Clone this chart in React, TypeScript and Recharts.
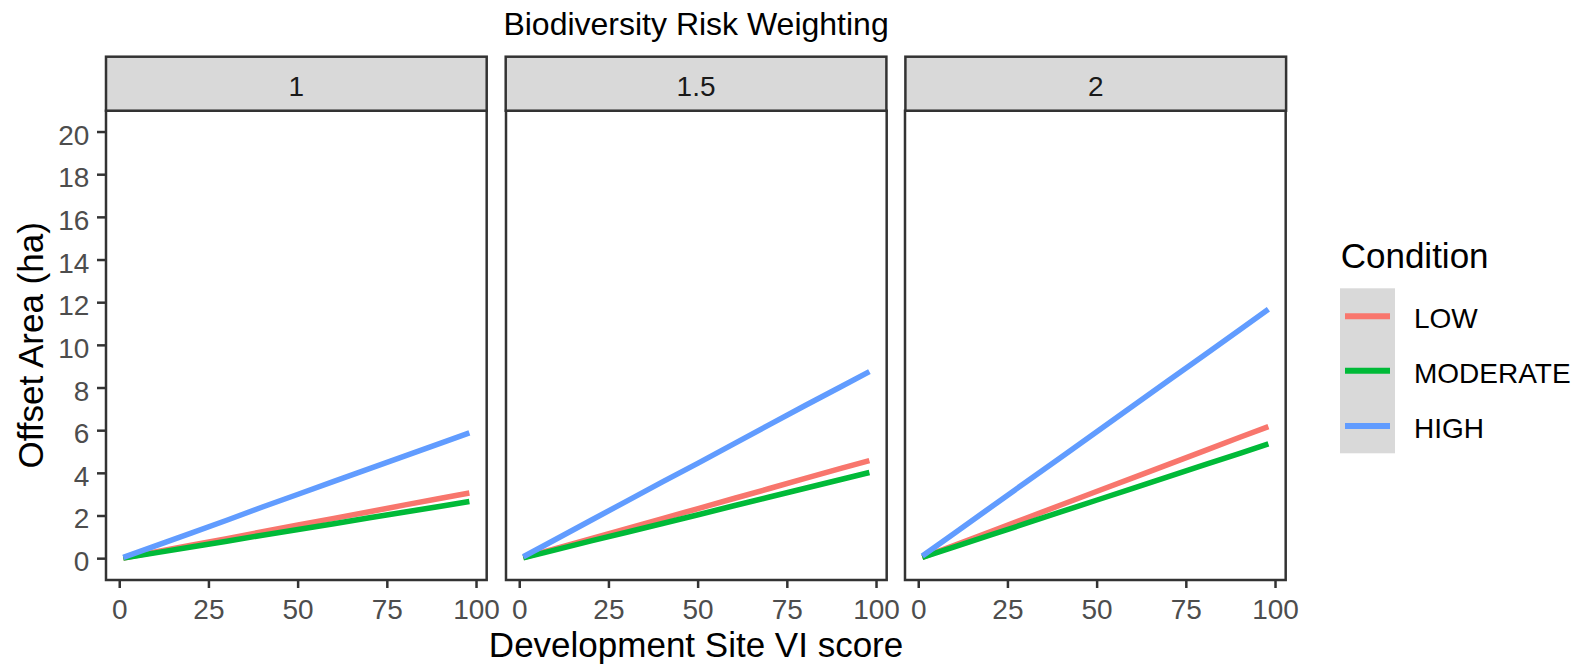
import { LineChart, Line, XAxis, YAxis, ReferenceArea } from 'recharts'

// VI score sample points along each curve
const VI_SCORE = [1, 10, 20, 30, 40, 50, 60, 70, 80, 90, 98]

// facet labels (biodiversity risk weighting)
const WEIGHTS = ['1', '1.5', '2']

// offset area (ha) per condition, one array per weighting
const LOW_W1 = [0.03, 0.31, 0.63, 0.94, 1.26, 1.58, 1.89, 2.2, 2.52, 2.83, 3.08]
const MODERATE_W1 = [0.03, 0.27, 0.55, 0.82, 1.1, 1.37, 1.64, 1.92, 2.19, 2.46, 2.68]
const HIGH_W1 = [0.06, 0.6, 1.2, 1.8, 2.42, 3.02, 3.62, 4.22, 4.82, 5.42, 5.9]

const LOW_W15 = [0.05, 0.47, 0.94, 1.41, 1.88, 2.35, 2.82, 3.29, 3.76, 4.23, 4.6]
const MODERATE_W15 = [0.04, 0.41, 0.83, 1.24, 1.65, 2.06, 2.48, 2.89, 3.3, 3.71, 4.04]
const HIGH_W15 = [0.09, 0.9, 1.8, 2.7, 3.6, 4.48, 5.38, 6.28, 7.18, 8.06, 8.77]

const LOW_W2 = [0.06, 0.63, 1.26, 1.89, 2.53, 3.16, 3.79, 4.42, 5.05, 5.69, 6.19]
const MODERATE_W2 = [0.06, 0.55, 1.1, 1.65, 2.2, 2.75, 3.3, 3.85, 4.4, 4.94, 5.38]
const HIGH_W2 = [0.12, 1.19, 2.39, 3.58, 4.77, 5.96, 7.16, 8.35, 9.54, 10.73, 11.69]

const X_TICKS = [0, 25, 50, 75, 100]
const Y_TICKS = [0, 2, 4, 6, 8, 10, 12, 14, 16, 18, 20]

const CONDITIONS = [
    { key: 'low', label: 'LOW', color: '#F8766D' },
    { key: 'moderate', label: 'MODERATE', color: '#00BA38' },
    { key: 'high', label: 'HIGH', color: '#619CFF' }
]

const SERIES = [
    [LOW_W1, MODERATE_W1, HIGH_W1],
    [LOW_W15, MODERATE_W15, HIGH_W15],
    [LOW_W2, MODERATE_W2, HIGH_W2]
]

const X_DOMAIN: [number, number] = [-3.85, 102.85]
const Y_DOMAIN: [number, number] = [-1, 21]

const FONT = '"Liberation Sans", Arial, sans-serif'
const INK = '#333333'

const PANEL_LEFT = [106, 505.7, 905.4]
const PANEL_W = 380.7
const PANEL_TOP = 110.7
const PANEL_BOTTOM = 580
const CHART_H = 640
const PAD = 30

const buildRows = (i: number) =>
    VI_SCORE.map((x, j) => ({
        x,
        low: SERIES[i][0][j],
        moderate: SERIES[i][1][j],
        high: SERIES[i][2][j]
    }))

const XTick = (props: any) => (
    <text x={props.x} y={props.y + 19.9} textAnchor="middle" fontSize={28} fill="#4D4D4D" fontFamily={FONT}>
        {props.payload.value}
    </text>
)

const YTick = (props: any) => (
    <text x={props.x} y={props.y + 12.5} textAnchor="end" fontSize={28} fill="#4D4D4D" fontFamily={FONT}>
        {props.payload.value}
    </text>
)

const Panel = ({ i }: { i: number }) => {
    const first = i === 0
    const left = first ? 0 : PANEL_LEFT[i] - PAD
    const leftSpace = first ? PANEL_LEFT[0] : PAD
    return (
        <div style={{ position: 'absolute', left, top: 0 }}>
            <LineChart
                width={leftSpace + PANEL_W + PAD}
                height={CHART_H}
                data={buildRows(i)}
                margin={{ top: PANEL_TOP, right: PAD, bottom: 0, left: first ? 0 : PAD }}
            >
                <XAxis
                    dataKey="x"
                    type="number"
                    domain={X_DOMAIN}
                    ticks={X_TICKS}
                    allowDataOverflow
                    axisLine={false}
                    tickLine={{ stroke: INK, strokeWidth: 2.5 }}
                    tickSize={8}
                    tickMargin={11.5}
                    height={CHART_H - PANEL_BOTTOM}
                    tick={XTick}
                    interval={0}
                />
                <YAxis
                    type="number"
                    domain={Y_DOMAIN}
                    ticks={Y_TICKS}
                    allowDataOverflow
                    hide={!first}
                    width={first ? PANEL_LEFT[0] : 0}
                    axisLine={false}
                    tickLine={{ stroke: INK, strokeWidth: 2.5 }}
                    tickSize={9}
                    tickMargin={7.7}
                    tick={YTick}
                    interval={0}
                />
                <ReferenceArea
                    x1={X_DOMAIN[0]}
                    x2={X_DOMAIN[1]}
                    y1={Y_DOMAIN[0]}
                    y2={Y_DOMAIN[1]}
                    fill="none"
                    stroke={INK}
                    strokeWidth={2.5}
                    ifOverflow="visible"
                />
                {CONDITIONS.map((c) => (
                    <Line
                        key={c.key}
                        dataKey={c.key}
                        type="linear"
                        stroke={c.color}
                        strokeWidth={5.5}
                        dot={false}
                        activeDot={false}
                        isAnimationActive={false}
                    />
                ))}
            </LineChart>
        </div>
    )
}

export default function App() {
    const centre = (PANEL_LEFT[0] + PANEL_LEFT[2] + PANEL_W) / 2
    return (
        <div style={{ position: 'relative', width: 1585, height: 667, background: '#fff', fontFamily: FONT }}>
            <style>{'body{margin:0}'}</style>
            {WEIGHTS.map((_, i) => (
                <Panel key={i} i={i} />
            ))}
            <svg width={1585} height={667} style={{ position: 'absolute', left: 0, top: 0, pointerEvents: 'none' }}>
                <text x={centre} y={35} textAnchor="middle" fontSize={32} fontFamily={FONT} fill="#000">
                    Biodiversity Risk Weighting
                </text>
                {WEIGHTS.map((w, i) => (
                    <g key={w}>
                        <rect
                            x={PANEL_LEFT[i]}
                            y={56.7}
                            width={PANEL_W}
                            height={PANEL_TOP - 56.7}
                            fill="#D9D9D9"
                            stroke={INK}
                            strokeWidth={2.5}
                        />
                        <text
                            x={PANEL_LEFT[i] + PANEL_W / 2}
                            y={96}
                            textAnchor="middle"
                            fontSize={28}
                            fontFamily={FONT}
                            fill="#1A1A1A"
                        >
                            {w}
                        </text>
                    </g>
                ))}
                <text x={centre} y={656.7} textAnchor="middle" fontSize={35} fontFamily={FONT} fill="#000">
                    Development Site VI score
                </text>
                <text
                    transform={`translate(42.7, ${(PANEL_TOP + PANEL_BOTTOM) / 2}) rotate(-90)`}
                    textAnchor="middle"
                    fontSize={35}
                    fontFamily={FONT}
                    fill="#000"
                >
                    Offset Area (ha)
                </text>
                <text x={1340.7} y={268} fontSize={35} fontFamily={FONT} fill="#000">
                    Condition
                </text>
                <rect x={1340} y={288.3} width={55} height={165} fill="#D9D9D9" />
                {CONDITIONS.map((c, k) => {
                    const ky = [316.3, 370.7, 426][k]
                    return (
                        <g key={c.key}>
                            <line x1={1345} x2={1390} y1={ky} y2={ky} stroke={c.color} strokeWidth={6} />
                            <text x={1414} y={ky + 12} fontSize={28} fontFamily={FONT} fill="#000">
                                {c.label}
                            </text>
                        </g>
                    )
                })}
            </svg>
        </div>
    )
}
